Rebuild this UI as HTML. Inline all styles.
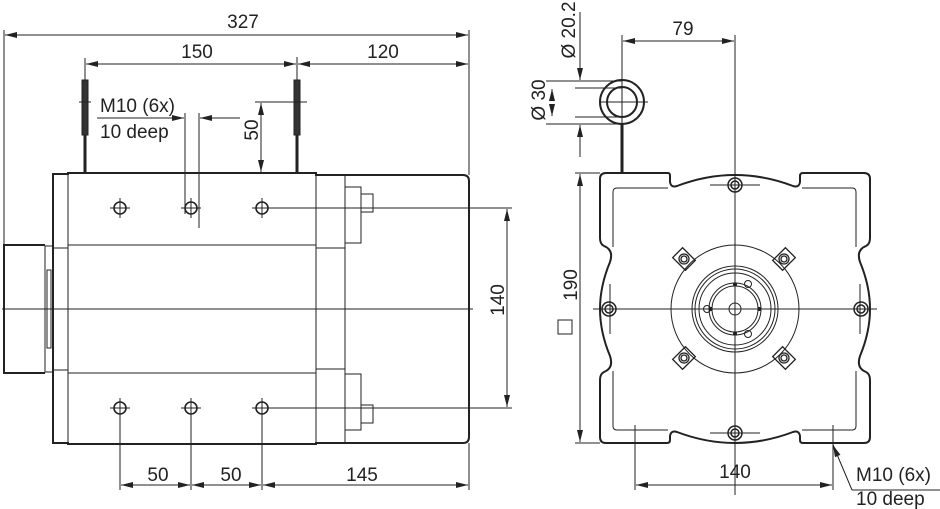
<!DOCTYPE html>
<html><head><meta charset="utf-8"><style>
html,body{margin:0;padding:0;background:#fff}
svg{display:block}
text{font-family:"Liberation Sans",sans-serif;font-size:19px;fill:#222}
</style></head><body>
<svg width="940" height="509" viewBox="0 0 940 509" xmlns="http://www.w3.org/2000/svg">
<defs>
<marker id="a" viewBox="0 0 12 6" refX="12" refY="3" markerWidth="12" markerHeight="6" orient="auto-start-reverse" markerUnits="userSpaceOnUse"><path d="M0,0 L12,3 L0,6 z" fill="#222"/></marker>
</defs>
<g stroke="#222" fill="none" stroke-width="1">
<line x1="4" y1="30" x2="4" y2="245"/>
<line x1="469" y1="30" x2="469" y2="175"/>
<line x1="5" y1="35" x2="468" y2="35" marker-start="url(#a)" marker-end="url(#a)"/>
<line x1="85" y1="58" x2="85" y2="80"/>
<line x1="297" y1="57" x2="297" y2="80"/>
<line x1="86" y1="64" x2="296" y2="64" marker-start="url(#a)" marker-end="url(#a)"/>
<line x1="298" y1="64" x2="468" y2="64" marker-start="url(#a)" marker-end="url(#a)"/>
<rect x="82" y="80" width="6" height="55" fill="#333"/>
<line x1="85" y1="135" x2="85" y2="174" stroke-width="3"/>
<rect x="294" y="80" width="6" height="55" fill="#333"/>
<line x1="297" y1="135" x2="297" y2="174" stroke-width="3"/>
<line x1="79" y1="102" x2="91" y2="102"/>
<line x1="97" y1="118" x2="184" y2="118" marker-end="url(#a)"/>
<line x1="240" y1="118" x2="200" y2="118" marker-end="url(#a)"/>
<line x1="185" y1="113" x2="185" y2="214"/>
<line x1="199" y1="113" x2="199" y2="228"/>
<line x1="255" y1="102" x2="307" y2="102"/>
<line x1="261" y1="103" x2="261" y2="172" marker-start="url(#a)" marker-end="url(#a)"/>
<path d="M53,443 L53,174 L68,174 L68,173 L316,173 L316,175 L463,175 Q469,175 469,181 L469,437 Q469,443 463,443 L316,443 L316,444 L68,444 L68,443 Z" stroke-width="2"/>
<line x1="68" y1="173" x2="68" y2="444"/>
<line x1="316" y1="175" x2="316" y2="443"/>
<line x1="345" y1="175" x2="345" y2="443"/>
<line x1="68" y1="245" x2="316" y2="245"/>
<line x1="316" y1="248" x2="345" y2="248"/>
<line x1="68" y1="373" x2="316" y2="373"/>
<line x1="316" y1="369" x2="345" y2="369"/>
<line x1="53" y1="248" x2="68" y2="248"/>
<line x1="53" y1="370" x2="68" y2="370"/>
<rect x="345" y="187" width="16" height="56"/>
<rect x="361" y="194" width="12" height="18"/>
<rect x="345" y="374" width="16" height="56"/>
<rect x="361" y="405" width="12" height="18"/>
<path d="M45,245 L4,245 L4,373 L45,373" stroke-width="2"/>
<rect x="45" y="246" width="8" height="126"/>
<rect x="47" y="270" width="4" height="78"/>
<line x1="2" y1="309" x2="473" y2="309"/>
<g stroke-width="1.6">
<circle cx="120" cy="208" r="6"/><circle cx="191" cy="208" r="6"/><circle cx="262" cy="208" r="6"/>
<circle cx="120" cy="408" r="6"/><circle cx="191" cy="408" r="6"/><circle cx="262" cy="408" r="6"/>
</g>
<path d="M110,208h20M120,198v20M181,208h20M191,198v20M252,208h10M262,198v20M110,408h20M120,398v20M181,408h20M191,398v20M252,408h10M262,398v20"/>
<line x1="262" y1="208" x2="512" y2="208"/>
<line x1="262" y1="408" x2="512" y2="408"/>
<line x1="507" y1="209" x2="507" y2="407" marker-start="url(#a)" marker-end="url(#a)"/>
<line x1="120" y1="408" x2="120" y2="490"/>
<line x1="191" y1="408" x2="191" y2="490"/>
<line x1="262" y1="408" x2="262" y2="490"/>
<line x1="469" y1="443" x2="469" y2="490"/>
<line x1="121" y1="485" x2="190" y2="485" marker-start="url(#a)" marker-end="url(#a)"/>
<line x1="192" y1="485" x2="261" y2="485" marker-start="url(#a)" marker-end="url(#a)"/>
<line x1="263" y1="485" x2="468" y2="485" marker-start="url(#a)" marker-end="url(#a)"/>

<circle cx="622" cy="102" r="22" stroke-width="2"/>
<circle cx="622" cy="102" r="15" stroke-width="2"/>
<line x1="600" y1="102" x2="648" y2="102"/>
<line x1="622" y1="35" x2="622" y2="124"/>
<line x1="622" y1="124" x2="622" y2="174" stroke-width="3"/>
<line x1="546" y1="81" x2="622" y2="81"/>
<line x1="546" y1="124" x2="622" y2="124"/>
<line x1="575" y1="88" x2="622" y2="88"/>
<line x1="575" y1="117" x2="622" y2="117"/>
<line x1="580" y1="12" x2="580" y2="80" marker-end="url(#a)"/>
<line x1="580" y1="157" x2="580" y2="125" marker-end="url(#a)"/>
<line x1="552" y1="100" x2="552" y2="89" marker-end="url(#a)"/>
<line x1="552" y1="105" x2="552" y2="116" marker-end="url(#a)"/>
<line x1="735" y1="35" x2="735" y2="495"/>
<line x1="623" y1="41" x2="734" y2="41" marker-start="url(#a)" marker-end="url(#a)"/>
<line x1="593" y1="309" x2="877" y2="309"/>
<path d="M606,173 L668,173 Q670,173 670,176 L670,182 Q671,188 677,186 Q735,164 793,186 Q799,188 800,182 L800,176 Q800,173 803,173 L864,173 Q870,173 870,179 L870,238 Q870,244 866,246 Q856,250 860,262 Q870,286 870,309 Q870,332 860,356 Q856,368 866,372 Q870,374 870,380 L870,437 Q870,443 864,443 L803,443 Q800,443 800,440 L800,436 Q799,430 793,432 Q735,454 677,432 Q671,430 670,436 L670,440 Q670,443 667,443 L606,443 Q600,443 600,437 L600,380 Q600,374 604,372 Q614,368 610,356 Q600,332 600,309 Q600,286 610,262 Q614,250 604,246 Q600,244 600,238 L600,179 Q600,173 606,173 Z" stroke-width="2"/>
<path d="M613,247 L613,192 Q613,188 617,188 L668,188 M802,188 L852,188 Q856,188 856,192 L856,247 M856,371 L856,426 Q856,430 852,430 L802,430 M668,430 L617,430 Q613,430 613,426 L613,371"/>
<g stroke-width="1.5">
<circle cx="735" cy="185" r="7"/><circle cx="735" cy="185" r="4"/>
<circle cx="735" cy="433" r="7"/><circle cx="735" cy="433" r="4"/>
<circle cx="609" cy="309" r="7"/><circle cx="609" cy="309" r="4"/>
<circle cx="861" cy="309" r="7"/><circle cx="861" cy="309" r="4"/>
</g>
<path d="M710,185h50M710,433h50M610,284v50M860,284v50"/>
<circle cx="735" cy="309" r="64"/>
<circle cx="735" cy="309" r="43"/>
<circle cx="735" cy="309" r="40"/>
<circle cx="735" cy="309" r="36"/>
<circle cx="735" cy="309" r="26"/>
<circle cx="735" cy="309" r="23"/>
<circle cx="735" cy="309" r="6"/>
<circle cx="748" cy="284" r="3.5"/><circle cx="748" cy="334" r="3.5"/><circle cx="707" cy="309" r="3.5"/>
<path d="M733,284h4M733,334h4M711,307v4M759,307v4" stroke-width="3"/>
<g stroke-width="1.3">
<g transform="translate(684,259) rotate(45)"><rect x="-9" y="-7" width="18" height="14"/><circle r="5"/><circle r="3"/></g>
<g transform="translate(784,259) rotate(-45)"><rect x="-9" y="-7" width="18" height="14"/><circle r="5"/><circle r="3"/></g>
<g transform="translate(684,358) rotate(-45)"><rect x="-9" y="-7" width="18" height="14"/><circle r="5"/><circle r="3"/></g>
<g transform="translate(784,358) rotate(45)"><rect x="-9" y="-7" width="18" height="14"/><circle r="5"/><circle r="3"/></g>
</g>
<line x1="575" y1="173" x2="600" y2="173"/>
<line x1="575" y1="443" x2="600" y2="443"/>
<line x1="580" y1="174" x2="580" y2="442" marker-start="url(#a)" marker-end="url(#a)"/>
<rect x="558" y="320" width="14" height="14"/>
<line x1="635" y1="425" x2="635" y2="490"/>
<line x1="833" y1="425" x2="833" y2="490"/>
<line x1="636" y1="485" x2="832" y2="485" marker-start="url(#a)" marker-end="url(#a)"/>
<polyline points="852,490 833,445"/>
<line x1="836" y1="452" x2="833" y2="445" marker-end="url(#a)"/>
<line x1="852" y1="490" x2="940" y2="490"/>
</g>
<g>
<text x="243" y="28" text-anchor="middle">327</text>
<text x="197" y="58" text-anchor="middle">150</text>
<text x="383" y="58" text-anchor="middle">120</text>
<text x="100" y="112">M10 (6x)</text>
<text x="100" y="138">10 deep</text>
<text transform="translate(258,130) rotate(-90)" text-anchor="middle">50</text>
<text transform="translate(504,300) rotate(-90)" text-anchor="middle">140</text>
<text x="158" y="481" text-anchor="middle">50</text>
<text x="231" y="481" text-anchor="middle">50</text>
<text x="362" y="481" text-anchor="middle">145</text>
<text x="683" y="35" text-anchor="middle">79</text>
<text transform="translate(575,30) rotate(-90)" text-anchor="middle">Ø 20.2</text>
<text transform="translate(545,100) rotate(-90)" text-anchor="middle">Ø 30</text>
<text transform="translate(577,285) rotate(-90)" text-anchor="middle">190</text>
<text x="735" y="478" text-anchor="middle">140</text>
<text x="856" y="481">M10 (6x)</text>
<text x="856" y="505">10 deep</text>
</g>
</svg>
</body></html>
